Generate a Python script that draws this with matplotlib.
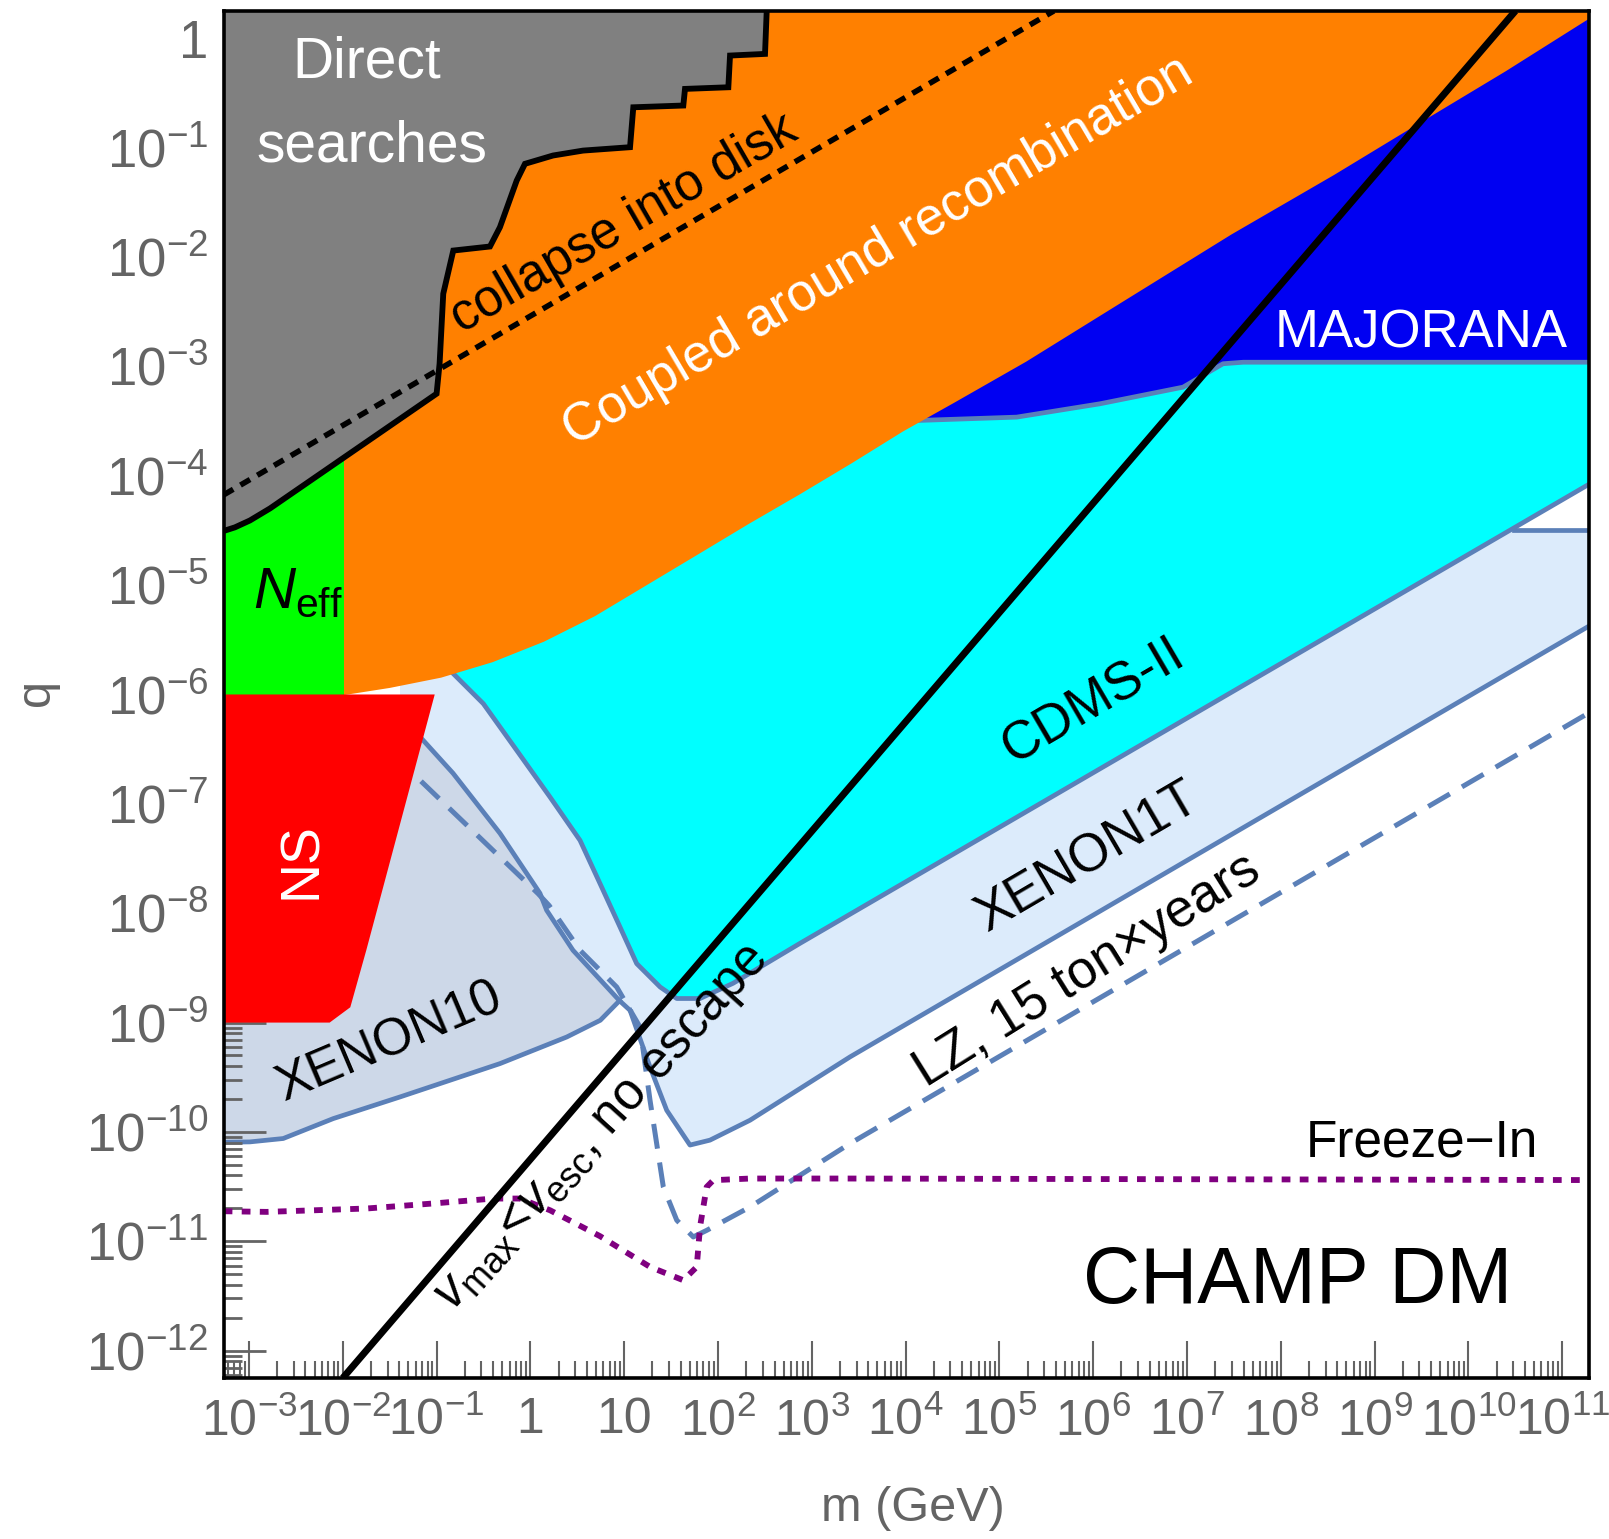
import matplotlib.pyplot as plt
import numpy as np

plt.rcParams['font.family'] = ['Liberation Sans', 'DejaVu Sans']
plt.rcParams['mathtext.fontset'] = 'custom'
plt.rcParams['mathtext.rm'] = 'Liberation Sans'
plt.rcParams['mathtext.it'] = 'Liberation Sans:italic'
plt.rcParams['mathtext.bf'] = 'Liberation Sans:bold'

# Every curve is given as log10(m / GeV) and log10(q)
XMIN, XMAX = -3.27, 11.28
YMIN, YMAX = -12.25, 0.25

# Direct searches (upper edge of the grey region)
direct_m = [-3.27, -3.15, -2.99, -2.776, -1.0, -0.968, -0.929, -0.822, -0.431, -0.325,
            -0.146, -0.058, 0.241, 0.561, 1.062, 1.097, 1.630, 1.648, 2.110, 2.128,
            2.501, 2.519]
direct_q = [-4.505, -4.472, -4.409, -4.299, -3.25, -2.974, -2.336, -1.941, -1.904, -1.728,
            -1.301, -1.148, -1.072, -1.027, -0.996, -0.631, -0.615, -0.463, -0.448, -0.158,
            -0.143, 0.25]

# Coupled around recombination (lower edge of the orange region)
recomb_m = [-1.99, -1.498, -0.951, -0.404, 0.143, 0.690, 1.237, 1.784, 2.331, 2.878,
            3.425, 3.972, 4.519, 5.285, 6.379, 7.473, 8.567, 9.47, 10.4, 11.28]
recomb_q = [-6.006, -5.940, -5.846, -5.705, -5.518, -5.283, -5.002, -4.721, -4.439, -4.167,
            -3.886, -3.595, -3.332, -2.957, -2.375, -1.794, -1.25, -0.78, -0.30, 0.176]

# N_eff bound
neff_m = [-3.27, -1.99]
neff_q = [-6.005, -3.5]

# Neutron star bound
ns_m = [-3.27, -1.02, -1.75, -1.92, -2.14, -3.27]
ns_q = [-6.0, -6.0, -8.34, -8.86, -9.0, -9.0]

# MAJORANA (lower edge)
maj_m = [3.94, 4.118, 5.184, 6.072, 6.957, 7.383, 7.6, 11.28]
maj_q = [-3.60, -3.495, -3.464, -3.342, -3.19, -2.976, -2.962, -2.962]

# CDMS-II (left and lower edge)
cdms_m = [-0.822, -0.502, -0.146, 0.209, 0.529, 0.741, 0.955, 1.133, 1.383, 1.56, 1.808,
          2.16, 2.875, 11.28]
cdms_q = [-5.81, -6.084, -6.511, -6.938, -7.334, -7.727, -8.126, -8.461, -8.675, -8.78,
          -8.78, -8.641, -8.275, -4.08]

# XENON10
x10_top_m = [-1.39, -1.142, -0.825, -0.324, 0.102, 0.173, 0.454, 0.95, 1.062]
x10_top_q = [-6.19, -6.42, -6.72, -7.27, -7.818, -7.973, -8.339, -8.80, -8.888]
x10_bot_m = [-3.27, -2.99, -2.635, -2.102, -1.39, -0.324, 0.387, 0.745, 0.95]
x10_bot_q = [-10.094, -10.091, -10.06, -9.878, -9.68, -9.375, -9.132, -8.979, -8.80]

# XENON1T (lower edge, then the flat cut at high mass)
x1t_m = [1.062, 1.275, 1.453, 1.701, 1.914, 2.341, 3.407, 11.28]
x1t_q = [-8.888, -9.406, -9.802, -10.12, -10.075, -9.893, -9.314, -5.377]
x1t_cut_m = [10.49, 11.28]
x1t_cut_q = [-4.5, -4.5]

# LZ projection, 15 ton x years
lz_m = [-1.40, -1.212, 0.082, 0.20, 0.529, 0.92, 1.168, 1.275, 1.417, 1.56, 1.736, 1.879,
        2.341, 3.407, 11.28]
lz_q = [-6.50, -6.755, -7.821, -7.93, -8.339, -8.675, -9.04, -9.71, -10.503, -10.807,
        -10.96, -10.9, -10.686, -10.106, -6.17]

# Freeze-in
fi_m = [-3.27, -2.812, -1.746, -1.035, -0.396, -0.111, 0.209, 0.742, 1.275, 1.63, 1.773,
        1.808, 1.879, 1.95, 2.341, 3.407, 11.28]
fi_q = [-10.725, -10.731, -10.70, -10.654, -10.609, -10.609, -10.716, -10.953, -11.234,
        -11.356, -11.234, -10.868, -10.503, -10.441, -10.426, -10.426, -10.44]

# v_max < v_esc and collapse into disk
vesc_m = [-2.0, 10.5]
vesc_q = [-12.25, 0.25]
disk_m = [-3.27, 5.58]
disk_q = [-4.175, 0.25]

x_ticks = list(range(-3, 12))
y_ticks = list(range(-12, 1))

STEEL = '#5b80b8'
GREY_TXT = '#646464'


def lin(v):
    return 10.0 ** np.asarray(v, dtype=float)


def fill(ax, lm, lq, color, z):
    ax.fill(lin(lm), lin(lq), color=color, lw=0, zorder=z)


def exp_label(k):
    if k == 0:
        return '1'
    if k == 1:
        return '10'
    return r'$10^{%d}$' % k


fig = plt.figure(figsize=(16.09, 15.39), dpi=100)
ax = fig.add_axes([0.139, 0.1046, 0.8483, 0.8883])
ax.set_xscale('log')
ax.set_yscale('log')
ax.set_xlim(lin(XMIN), lin(XMAX))
ax.set_ylim(lin(YMIN), lin(YMAX))

# XENON1T band (hidden where other regions are drawn on top)
fill(ax, x10_top_m + x1t_m[1:] + [11.28, 10.49, 2.0, -1.39],
     x10_top_q + x1t_q[1:] + [-4.5, -4.5, -6.0, -5.6], '#dcebfb', 1)
# XENON10
fill(ax, [-3.27] + x10_top_m + x10_bot_m[::-1],
     [-6.19] + x10_top_q + x10_bot_q[::-1], '#cdd8e8', 2)
# CDMS-II
fill(ax, cdms_m + [11.28, 4.0], cdms_q + [-2.5, -2.5], '#00ffff', 3)
# MAJORANA
fill(ax, maj_m + [11.28, 3.94], maj_q + [0.3, 0.3], '#0000f2', 4)
# recombination
fill(ax, recomb_m + [11.28, -1.99], recomb_q + [0.3, 0.3], '#ff8000', 5)
# N_eff
fill(ax, [neff_m[0], neff_m[1], neff_m[1], neff_m[0]],
     [neff_q[0], neff_q[0], neff_q[1], neff_q[1]], '#00ff00', 5)
# neutron stars
fill(ax, ns_m, ns_q, '#ff0000', 6)
# direct searches
fill(ax, direct_m + [2.519, -3.27], direct_q + [0.3, 0.3], '#808080', 7)

# outlines of the experimental regions
LW_EDGE = 3.4
ax.plot(lin(x10_top_m), lin(x10_top_q), color=STEEL, lw=LW_EDGE, zorder=2.5)
ax.plot(lin(x10_bot_m), lin(x10_bot_q), color=STEEL, lw=LW_EDGE, zorder=2.5)
ax.plot(lin(x1t_m), lin(x1t_q), color=STEEL, lw=LW_EDGE, zorder=2.5)
ax.plot(lin(x1t_cut_m), lin(x1t_cut_q), color=STEEL, lw=LW_EDGE, zorder=2.5)
ax.plot(lin(cdms_m), lin(cdms_q), color=STEEL, lw=LW_EDGE, zorder=3.5)
ax.plot(lin(maj_m[1:]), lin(maj_q[1:]), color=STEEL, lw=LW_EDGE, zorder=4.5)
ax.plot(lin(direct_m), lin(direct_q), color='black', lw=4.2, zorder=7.5,
        solid_joinstyle='miter')

# LZ projection runs underneath the neutron star region
ax.plot(lin(lz_m), lin(lz_q), color=STEEL, lw=3.6, dashes=(5, 2.8), zorder=5.5)
ax.plot(lin(fi_m), lin(fi_q), color='#800080', lw=4.2, dashes=(1.5, 1.6), zorder=8)
ax.plot(lin(disk_m), lin(disk_q), color='black', lw=4.0, dashes=(2.0, 1.5), zorder=8)
ax.plot(lin(vesc_m), lin(vesc_q), color='black', lw=5.0, zorder=9,
        solid_capstyle='butt')


def label(lm, lq, s, size, color='black', rot=0, **kw):
    ax.text(lin(lm), lin(lq), s, fontsize=size, color=color, rotation=rot,
            rotation_mode='anchor', ha='center', va='center', zorder=11, **kw)


label(-1.749, -0.218, 'Direct', 41, 'white')
label(-1.695, -0.987, 'searches', 41, 'white')
label(1.0, -1.70, 'collapse into disk', 37, rot=30)
label(3.70, -1.95, 'Coupled around recombination', 38, 'white', rot=30.5)
label(9.50, -2.70, 'MAJORANA', 38, 'white')
label(-2.48, -5.07, r'$N_{\mathrm{eff}}$', 42)
label(-2.43, -7.52, 'NS', 40, 'white', rot=90)
label(6.00, -6.06, 'CDMS-II', 38, rot=30.3)
label(5.94, -7.49, 'XENON1T', 38, rot=30.3)
label(5.94, -8.52, 'LZ, 15 ton\u00d7years', 38, rot=32)
label(-1.50, -9.18, 'XENON10', 37, rot=23)
label(0.77, -9.97, r'$v_{\mathrm{max}}$<$v_{\mathrm{esc}}$, no escape', 37, rot=48)
label(9.50, -10.10, 'Freeze\u2212In', 37)
label(8.18, -11.38, 'CHAMP DM', 57)

ax.set_xticks(lin(x_ticks))
ax.set_xticklabels([exp_label(k) for k in x_ticks])
ax.set_yticks(lin(y_ticks))
ax.set_yticklabels([exp_label(k) for k in y_ticks])
ax.xaxis.set_minor_locator(plt.LogLocator(base=10, subs=np.arange(2, 10), numticks=200))
ax.yaxis.set_minor_locator(plt.LogLocator(base=10, subs=np.arange(2, 10), numticks=200))
ax.xaxis.set_minor_formatter(plt.NullFormatter())
ax.yaxis.set_minor_formatter(plt.NullFormatter())

ax.tick_params(which='both', direction='in', color=GREY_TXT, labelcolor=GREY_TXT,
               top=False, right=False)
ax.tick_params(axis='y', which='major', length=30, width=2.0, pad=11, labelsize=38)
ax.tick_params(axis='y', which='minor', length=13, width=2.0)
ax.tick_params(axis='x', which='major', length=27, width=1.5, pad=14, labelsize=36)
ax.tick_params(axis='x', which='minor', length=12, width=1.5)
for tick in ax.get_xticklabels() + ax.get_yticklabels():
    tick.set_zorder(12)
ax.set_axisbelow(False)

for sp in ax.spines.values():
    sp.set_linewidth(2.6)
    sp.set_color('black')
    sp.set_zorder(12)

fig.text(0.5676, 0.0198, 'm (GeV)', fontsize=35, color=GREY_TXT, ha='center', va='center')
fig.text(0.0224, 0.55, 'q', fontsize=35, color=GREY_TXT, ha='center', va='center',
         rotation=90)

fig.savefig('out.png', dpi=100)
